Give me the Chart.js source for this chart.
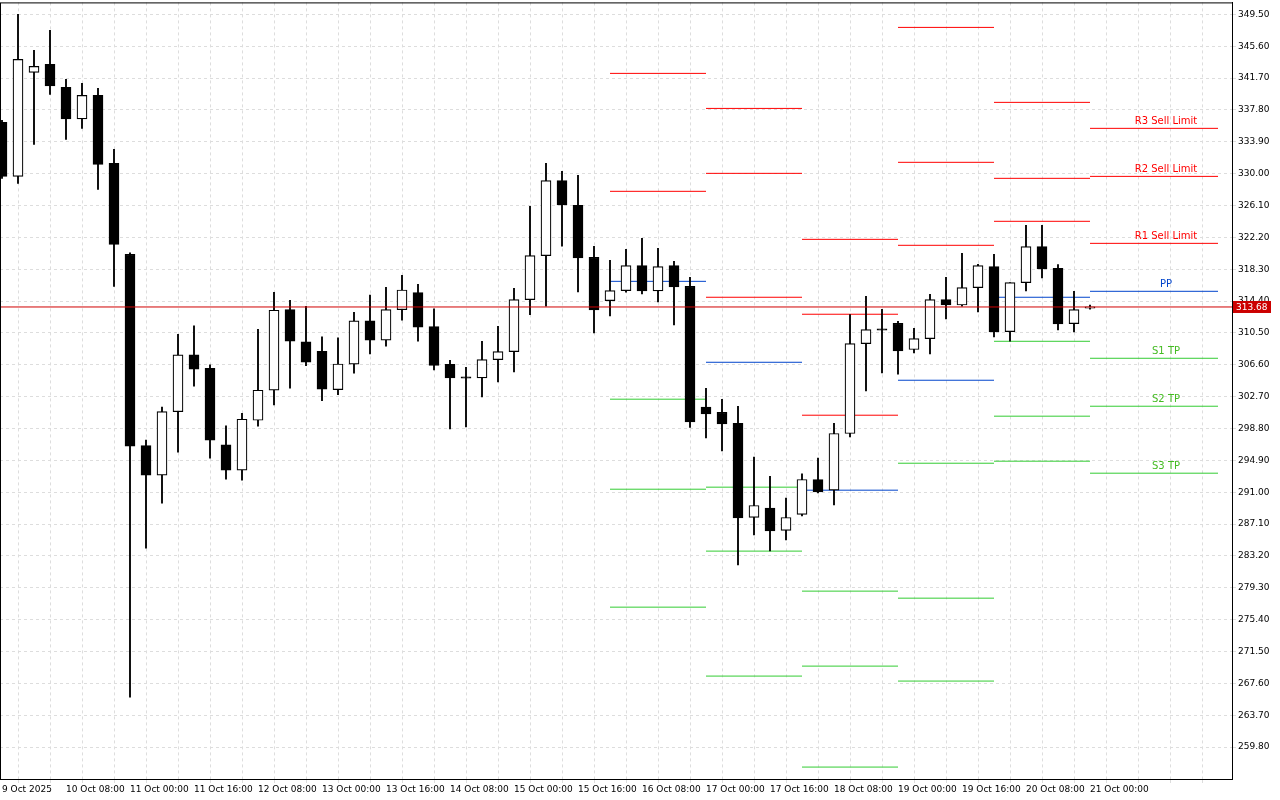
<!DOCTYPE html>
<html><head><meta charset="utf-8">
<script src="https://cdn.jsdelivr.net/npm/chart.js@4.4.1/dist/chart.umd.min.js"></script>
<style>html,body{margin:0;padding:0;background:#fff;overflow:hidden}#wrap{width:1280px;height:800px;overflow:hidden}#c{display:block;margin-top:-5px}</style>
</head><body><div id="wrap"><canvas id="c" width="1280" height="805"></canvas></div>
<script>
const opens  = [336.28,329.67,342.40,343.38,340.56,336.70,339.59,331.26,320.13,296.70,293.08,300.86,307.83,306.18,296.81,293.70,299.81,303.49,313.35,309.41,308.26,303.56,306.67,311.99,309.63,313.35,315.43,311.27,306.67,305.08,304.99,307.24,308.22,314.59,319.97,329.15,326.12,319.76,314.46,315.69,318.75,315.64,318.75,316.21,301.41,300.79,299.45,287.91,289.05,286.32,288.28,292.56,291.25,298.19,309.20,310.95,311.68,308.47,309.81,314.59,313.92,316.05,318.62,310.67,316.67,321.07,318.41,311.65,313.55];
const highs  = [336.52,349.50,345.09,347.54,341.54,341.05,340.44,332.98,320.30,297.37,301.41,310.34,311.38,306.59,299.12,300.67,310.95,315.48,314.50,313.77,310.02,309.91,313.03,315.15,316.09,317.56,316.46,313.46,307.16,306.30,309.48,311.32,315.97,326.00,331.26,330.29,329.80,321.11,319.39,320.74,322.09,320.86,319.27,317.31,303.73,302.38,301.53,295.29,292.96,290.27,293.24,295.17,299.45,312.75,314.99,313.40,311.93,311.07,315.24,317.31,320.25,318.90,320.13,316.67,323.68,323.68,318.87,315.60,313.90];
const lows   = [329.43,328.82,333.59,339.71,334.20,335.55,328.08,316.21,265.92,284.15,289.66,295.90,303.98,295.17,292.60,292.47,299.08,301.70,303.73,306.48,302.20,302.94,305.57,307.94,308.87,312.05,309.48,305.97,298.75,299.00,302.67,304.50,305.73,312.75,313.77,321.14,315.51,310.50,312.58,315.50,315.27,314.29,311.48,298.92,297.65,296.06,282.11,285.78,283.82,285.17,288.10,290.90,289.45,297.77,303.40,305.60,305.44,308.05,307.93,312.21,313.77,313.07,310.01,309.48,315.64,317.23,310.86,310.62,313.40];
const closes = [329.67,343.99,343.13,340.75,336.70,339.59,331.14,321.35,296.63,293.08,300.86,307.83,306.06,297.37,293.70,299.94,303.49,313.28,309.48,306.91,303.61,306.70,311.99,309.63,313.35,315.76,311.20,306.54,304.99,305.02,307.24,308.22,314.59,319.97,329.15,326.16,319.68,313.31,315.69,318.75,315.64,318.62,316.13,299.61,300.59,299.36,287.86,289.38,286.27,287.91,292.56,291.04,298.19,309.20,310.91,310.89,308.30,309.81,314.59,313.92,316.05,318.75,310.62,316.67,321.07,318.33,311.60,313.36,313.68];
const xLabels = ['9 Oct 2025','10 Oct 08:00','11 Oct 00:00','11 Oct 16:00','12 Oct 08:00','13 Oct 00:00','13 Oct 16:00','14 Oct 08:00','15 Oct 00:00','15 Oct 16:00','16 Oct 08:00','17 Oct 00:00','17 Oct 16:00','18 Oct 08:00','19 Oct 00:00','19 Oct 16:00','20 Oct 08:00','21 Oct 00:00'];
const yTicks = [349.50,345.60,341.70,337.80,333.90,330.00,326.10,322.20,318.30,314.40,310.50,306.60,302.70,298.80,294.90,291.00,287.10,283.20,279.30,275.40,271.50,267.60,263.70,259.80];
const pivotStart = [38,44,50,56,62,68];
const pivotEnd   = [44,50,56,62,68,76];
const r3 = [353.29,337.99,321.96,347.91,338.73,335.55];
const r2 = [342.28,330.04,312.79,331.39,329.43,329.67];
const r1 = [327.84,314.87,300.43,321.23,324.17,321.47];
const pp = [316.82,306.91,291.25,304.71,314.87,315.60];
const s1 = [302.39,291.62,278.89,294.55,309.48,307.40];
const s2 = [291.37,283.79,269.71,278.03,300.31,301.53];
const s3 = [276.93,268.49,257.35,267.88,294.80,293.33];
const lastPrice = 313.68;
const levelNames = ['R3 Sell Limit','R2 Sell Limit','R1 Sell Limit','PP','S1 TP','S2 TP','S3 TP'];

const RED='#ff0000', BLUE='#0044cc', GREEN='#33cc33';
const levels=[[r3,RED],[r2,RED],[r1,RED],[pp,BLUE],[s1,GREEN],[s2,GREEN],[s3,GREEN]];
const XMIN=-0.125, XMAX=76.875;

const n=opens.length;
const wickData=[], bodyData=[], bodyColors=[];
for(let i=0;i<n;i++){
  wickData.push({x:i,y:[lows[i],highs[i]]});
  let o=opens[i],c=closes[i];
  if(Math.abs(o-c)<0.15){const m=(o+c)/2;o=m-0.08;c=m+0.08;}
  bodyData.push({x:i,y:[o,c]});
  bodyColors.push(closes[i]>=opens[i]?'#ffffff':'#000000');
}
const datasets=[];
levels.forEach(([arr,col])=>{
  const d=[];
  arr.forEach((v,k)=>{d.push({x:pivotStart[k],y:v});d.push({x:pivotEnd[k],y:v});d.push({x:pivotEnd[k],y:null});});
  datasets.push({type:'line',data:d,borderColor:col,borderWidth:1,pointRadius:0,spanGaps:false,order:3});
});
datasets.push({type:'bar',data:wickData,backgroundColor:'#000',borderWidth:0,barThickness:1.2,grouped:false,order:2});
datasets.push({type:'bar',data:bodyData,backgroundColor:bodyColors,borderColor:'#000',borderWidth:1.2,borderSkipped:false,barThickness:10,grouped:false,order:1});
datasets.push({type:'line',data:[{x:XMIN,y:lastPrice},{x:XMAX,y:lastPrice}],borderColor:'#d00000',borderWidth:1,pointRadius:0,order:0});

const extras={id:'extras',
  afterDraw(chart){
    const ctx=chart.ctx,a=chart.chartArea,xs=chart.scales.x,ys=chart.scales.y;
    ctx.save();
    ctx.strokeStyle='#000';ctx.lineWidth=1;
    ctx.strokeRect(a.left+0.5,a.top+0.5,a.right-a.left,a.bottom-a.top);
    ctx.font='10px "DejaVu Sans", sans-serif';ctx.textAlign='center';ctx.textBaseline='bottom';
    const k=pivotStart.length-1;
    levels.forEach(([arr,col],j)=>{
      const y=ys.getPixelForValue(arr[k]);
      ctx.fillStyle=col===GREEN?'#44bb22':col;
      ctx.fillText(levelNames[j],xs.getPixelForValue(72.75),y-2);
    });
    const py=ys.getPixelForValue(lastPrice);
    ctx.fillStyle='#cc0000';ctx.fillRect(a.right+1,py-6,38,12);
    ctx.fillStyle='#fff';ctx.textAlign='left';ctx.textBaseline='middle';
    ctx.font='9px "DejaVu Sans", sans-serif';
    ctx.fillText(lastPrice.toFixed(2),a.right+4,py+0.5);
    ctx.restore();
  }};

new Chart(document.getElementById('c'),{
  data:{datasets},
  plugins:[extras],
  options:{
    responsive:false,animation:false,devicePixelRatio:1,
    layout:{padding:{left:0,top:-3,right:0,bottom:0}},
    plugins:{legend:{display:false},tooltip:{enabled:false}},
    scales:{
      x:{type:'linear',min:XMIN,max:XMAX,offset:false,
        afterBuildTicks(s){const t=[];for(let v=0;v<=76;v+=2)t.push({value:v});s.ticks=t;},
        afterFit(s){s.height=21;},
        grid:{color:'#dddddd',tickLength:4,drawOnChartArea:true},
        border:{display:true,color:'#000',dash:[3,3]},
        ticks:{autoSkip:false,maxRotation:0,align:'start',padding:1,color:'#000',font:{family:'DejaVu Sans',size:9},
          callback(v){return v%4===0&&xLabels[v/4]!==undefined?xLabels[v/4]:'';}}
      },
      y:{type:'linear',position:'right',min:255.89,max:350.97,
        afterBuildTicks(s){s.ticks=yTicks.map(v=>({value:v}));},
        afterFit(s){s.width=48;},
        grid:{color:'#dddddd',tickLength:4},
        border:{display:true,color:'#000',dash:[3,3]},
        ticks:{padding:2,color:'#000',font:{family:'DejaVu Sans',size:9},callback(v){return v.toFixed(2);}}
      }
    }
  }
});
</script></body></html>
